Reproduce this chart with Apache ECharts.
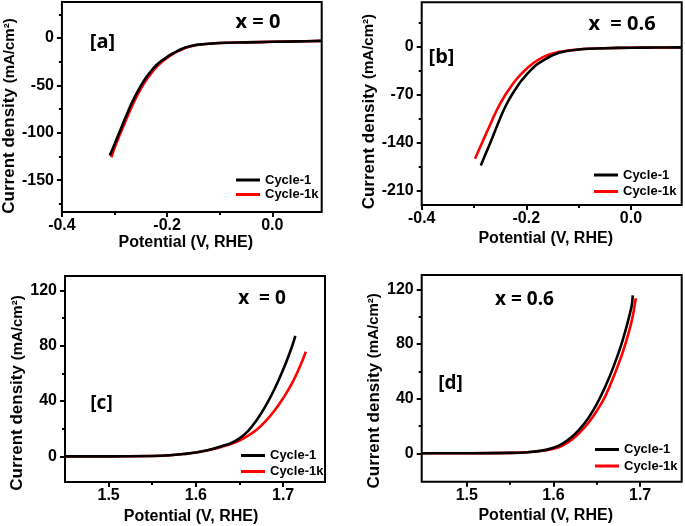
<!DOCTYPE html>
<html>
<head>
<meta charset="utf-8">
<script src="https://cdn.jsdelivr.net/npm/echarts@6/dist/echarts.min.js"></script>
<style>html,body{margin:0;padding:0;background:#fff;}#c{width:685px;height:526px;}</style>
</head>
<body>
<div id="c"></div>
<script>
// ---------- data ----------
const seriesNames = ['Cycle-1', 'Cycle-1k'];

// [a] x = 0, HER
const aPot1 = [-0.309,-0.30,-0.29,-0.28,-0.27,-0.26,-0.25,-0.24,-0.23,-0.22,-0.21,-0.20,-0.19,-0.18,-0.17,-0.16,-0.15,-0.14,-0.12,-0.10,-0.05,0.0,0.05,0.094];
const aCur1 = [-124,-112,-98.5,-85,-72,-60.5,-50.5,-41.6,-34.5,-28.5,-23.8,-20,-16.5,-13.5,-11,-9.2,-7.9,-7,-6,-5.3,-4.6,-4,-3.5,-3];
const aPot2 = [-0.306,-0.30,-0.29,-0.28,-0.27,-0.26,-0.25,-0.24,-0.23,-0.22,-0.21,-0.20,-0.19,-0.18,-0.17,-0.16,-0.15,-0.14,-0.12,-0.10,-0.05,0.0,0.05,0.094];
const aCur2 = [-126,-116,-102,-89,-76,-64,-53.5,-44.5,-37,-30.5,-25.3,-21,-17.3,-14,-11.5,-9.5,-8.1,-7.1,-6,-5.3,-4.6,-4,-3.5,-3];

// [b] x = 0.6, HER
const bPot1 = [-0.287,-0.28,-0.27,-0.26,-0.25,-0.24,-0.23,-0.22,-0.21,-0.20,-0.19,-0.18,-0.17,-0.16,-0.15,-0.14,-0.13,-0.12,-0.10,-0.08,-0.05,0.0,0.05,0.097];
const bCur1 = [-173,-160,-142,-123,-104,-87,-73,-61,-50,-41,-33,-26,-21,-16.5,-12.5,-9.5,-7.5,-6,-4,-3,-2.2,-1.5,-1.2,-1];
const bPot2 = [-0.298,-0.29,-0.28,-0.27,-0.26,-0.25,-0.24,-0.23,-0.22,-0.21,-0.20,-0.19,-0.18,-0.17,-0.16,-0.15,-0.14,-0.13,-0.12,-0.10,-0.08,-0.05,0.0,0.05,0.097];
const bCur2 = [-163,-149,-132,-115,-98,-83,-70,-58.5,-48.5,-40,-32.5,-26,-20.5,-16,-12.5,-10,-8,-6.8,-5.6,-4,-3,-2.2,-1.5,-1.2,-1];

// [c] x = 0, OER
const cPot1 = [1.45,1.50,1.55,1.57,1.59,1.60,1.61,1.62,1.63,1.64,1.65,1.66,1.67,1.68,1.69,1.70,1.71,1.714];
const cCur1 = [0,0,0.3,0.8,2,2.8,4,5.5,7.5,9.5,13,18.5,26.5,36.5,48.5,62.5,79,87];
const cPot2 = [1.45,1.50,1.55,1.57,1.59,1.60,1.61,1.62,1.63,1.64,1.65,1.66,1.67,1.68,1.69,1.70,1.71,1.72,1.726];
const cCur2 = [0,0,0.3,0.8,2,2.8,3.9,5.3,7,9,11.5,15,19.5,25.5,33,42,52.5,66,75.6];

// [d] x = 0.6, OER
const dPot1 = [1.448,1.50,1.55,1.57,1.59,1.60,1.61,1.62,1.63,1.64,1.65,1.66,1.67,1.68,1.69,1.6915];
const dCur1 = [0,0,0.3,0.8,2.3,4,6.8,11.3,17.5,25.5,36,49,64.5,83,107,115.6];
const dPot2 = [1.448,1.50,1.55,1.57,1.59,1.60,1.61,1.62,1.63,1.64,1.65,1.66,1.67,1.68,1.69,1.695];
const dCur2 = [0,0,0.3,0.7,2,3.3,5.5,9.3,15,22,31,42,57,74,96,113.5];

// tick labels
const herXTicks = [-0.4,-0.2,0.0];
const herXMinor = [-0.3,-0.1];
const aYTicks = [-150,-100,-50,0];
const aYMinor = [-175,-125,-75,-25,25];
const bYTicks = [-210,-140,-70,0];
const bYMinor = [-175,-105,-35,35];
const oerXTicks = [1.5,1.6,1.7];
const oerXMinor = [1.55,1.65];
const oerYTicks = [0,40,80,120];
const oerYMinor = [20,60,100];

// ---------- chart ----------
const zip = (xs, ys) => xs.map((x, i) => [x, ys[i]]);
const FONT = '"Liberation Sans", Arial, sans-serif';
const ANN = '"Open Sans", "Liberation Sans", sans-serif';

const panels = [
  {grid:{left:60.7,top:2,width:261,height:210}, x:[-0.4,0.094], y:[-183.5,38],
   xt:herXTicks, xm:herXMinor, yt:aYTicks, ym:aYMinor, xd:1,
   s:[zip(aPot1,aCur1), zip(aPot2,aCur2)], xGap:22, yGap:36, xPad:[0,12,0,0], yPad:[0,18,0,0],
   legend:{left:236,top:173.5,itemGap:1.5}},
  {grid:{left:421.7,top:2.3,width:260,height:202.7}, x:[-0.4,0.097], y:[-230.4,64.6],
   xt:herXTicks, xm:herXMinor, yt:bYTicks, ym:bYMinor, xd:1,
   s:[zip(bPot1,bCur1), zip(bPot2,bCur2)], xGap:26, yGap:36, xPad:[0,12,0,0], yPad:[0,16,0,0],
   legend:{left:594,top:168.5,itemGap:3.5}},
  {grid:{left:65,top:276,width:260,height:206.7}, x:[1.45,1.748], y:[-18.5,130.3],
   xt:oerXTicks, xm:oerXMinor, yt:oerYTicks, ym:oerYMinor, xd:1,
   s:[zip(cPot1,cCur1), zip(cPot2,cCur2)], xGap:27, yGap:39, xPad:[0,8,0,0], yPad:[0,28,0,0],
   legend:{left:241,top:449,itemGap:3}},
  {grid:{left:421.7,top:275,width:260,height:206.7}, x:[1.448,1.748], y:[-20.8,130.5],
   xt:oerXTicks, xm:oerXMinor, yt:oerYTicks, ym:oerYMinor, xd:1,
   s:[zip(dPot1,dCur1), zip(dPot2,dCur2)], xGap:26, yGap:39, xPad:[0,12,0,0], yPad:[0,25,0,0],
   legend:{left:595,top:443,itemGap:3.5}}
];

const grids = [], xAxes = [], yAxes = [], series = [], legends = [];
const colors = ['#000000', '#ff0000'];
const noLine = {show:false, onZero:false};

panels.forEach((p, i) => {
  grids.push(Object.assign({show:true, borderColor:'#000', borderWidth:2, backgroundColor:'transparent', containLabel:false}, p.grid));
  const tickStyle = {color:'#000', width:2};
  xAxes.push({
    type:'value', gridIndex:i, min:p.x[0], max:p.x[1], position:'bottom',
    name:'Potential (V, RHE)', nameLocation:'middle', nameGap:p.xGap,
    nameTextStyle:{fontFamily:FONT, fontWeight:'bold', fontSize:16, color:'#000', padding:p.xPad},
    axisLine:noLine,
    axisTick:{show:true, inside:false, length:5, lineStyle:tickStyle, customValues:p.xt},
    axisLabel:{show:true, margin:6, fontFamily:FONT, fontWeight:'bold', fontSize:16, color:'#000',
      customValues:p.xt, formatter:v => Number(v).toFixed(p.xd)},
    splitLine:{show:false}
  });
  xAxes.push({
    type:'value', gridIndex:i, min:p.x[0], max:p.x[1], position:'bottom', offset:0,
    axisLine:noLine,
    axisTick:{show:true, inside:false, length:3, lineStyle:tickStyle, customValues:p.xm},
    axisLabel:{show:false}, splitLine:{show:false}
  });
  yAxes.push({
    type:'value', gridIndex:i, min:p.y[0], max:p.y[1], position:'left',
    name:'{a|Current density }{b|(mA/cm²)}', nameLocation:'middle', nameGap:p.yGap, nameRotate:90,
    nameTextStyle:{color:'#000', padding:p.yPad,
      rich:{a:{fontFamily:FONT, fontWeight:'bold', fontSize:17, color:'#000'},
            b:{fontFamily:FONT, fontWeight:'bold', fontSize:15, color:'#000'}}},
    axisLine:noLine,
    axisTick:{show:true, inside:false, length:5, lineStyle:tickStyle, customValues:p.yt},
    axisLabel:{show:true, margin:8, fontFamily:FONT, fontWeight:'bold', fontSize:16, color:'#000',
      customValues:p.yt},
    splitLine:{show:false}
  });
  yAxes.push({
    type:'value', gridIndex:i, min:p.y[0], max:p.y[1], position:'left', offset:0,
    axisLine:noLine,
    axisTick:{show:true, inside:false, length:3, lineStyle:tickStyle, customValues:p.ym},
    axisLabel:{show:false}, splitLine:{show:false}
  });
  p.s.forEach((d, k) => {
    series.push({
      type:'line', name:seriesNames[k], xAxisIndex:2*i, yAxisIndex:2*i, data:d,
      showSymbol:false, symbol:'none', smooth:0.4,
      lineStyle:{color:colors[k], width:2.6}, itemStyle:{color:colors[k]},
      z: k === 0 ? 3 : 2, silent:true, animation:false
    });
  });
  legends.push({
    orient:'vertical', left:p.legend.left, top:p.legend.top, itemGap:p.legend.itemGap,
    itemWidth:24, itemHeight:3, padding:0, selectedMode:false,
    data:seriesNames.map((n, k) => ({name:n, icon:'rect', itemStyle:{color:colors[k]}})),
    textStyle:{fontFamily:FONT, fontWeight:'bold', fontSize:13, color:'#000', lineHeight:13}
  });
});

const annotations = [
  ['x = 0', 258, 22.5, 20], ['[a]', 102.5, 42, 20],
  ['x  = 0.6', 622, 24.5, 20], ['[b]', 441.5, 57.5, 20],
  ['x  = 0', 262, 298.5, 19], ['[c]', 101.5, 403.5, 19],
  ['x = 0.6', 524.5, 300, 19], ['[d]', 450.5, 384, 19]
];

const chart = echarts.init(document.getElementById('c'), null, {renderer:'canvas'});
chart.setOption({
  backgroundColor:'#fff',
  animation:false,
  grid:grids, xAxis:xAxes, yAxis:yAxes, series:series, legend:legends,
  graphic:annotations.map(a => ({
    type:'text', x:a[1], y:a[2], z:10,
    style:{text:a[0], fill:'#000', font:'bold ' + a[3] + 'px ' + ANN, textAlign:'center', textVerticalAlign:'middle'}
  }))
});
</script>
</body>
</html>
